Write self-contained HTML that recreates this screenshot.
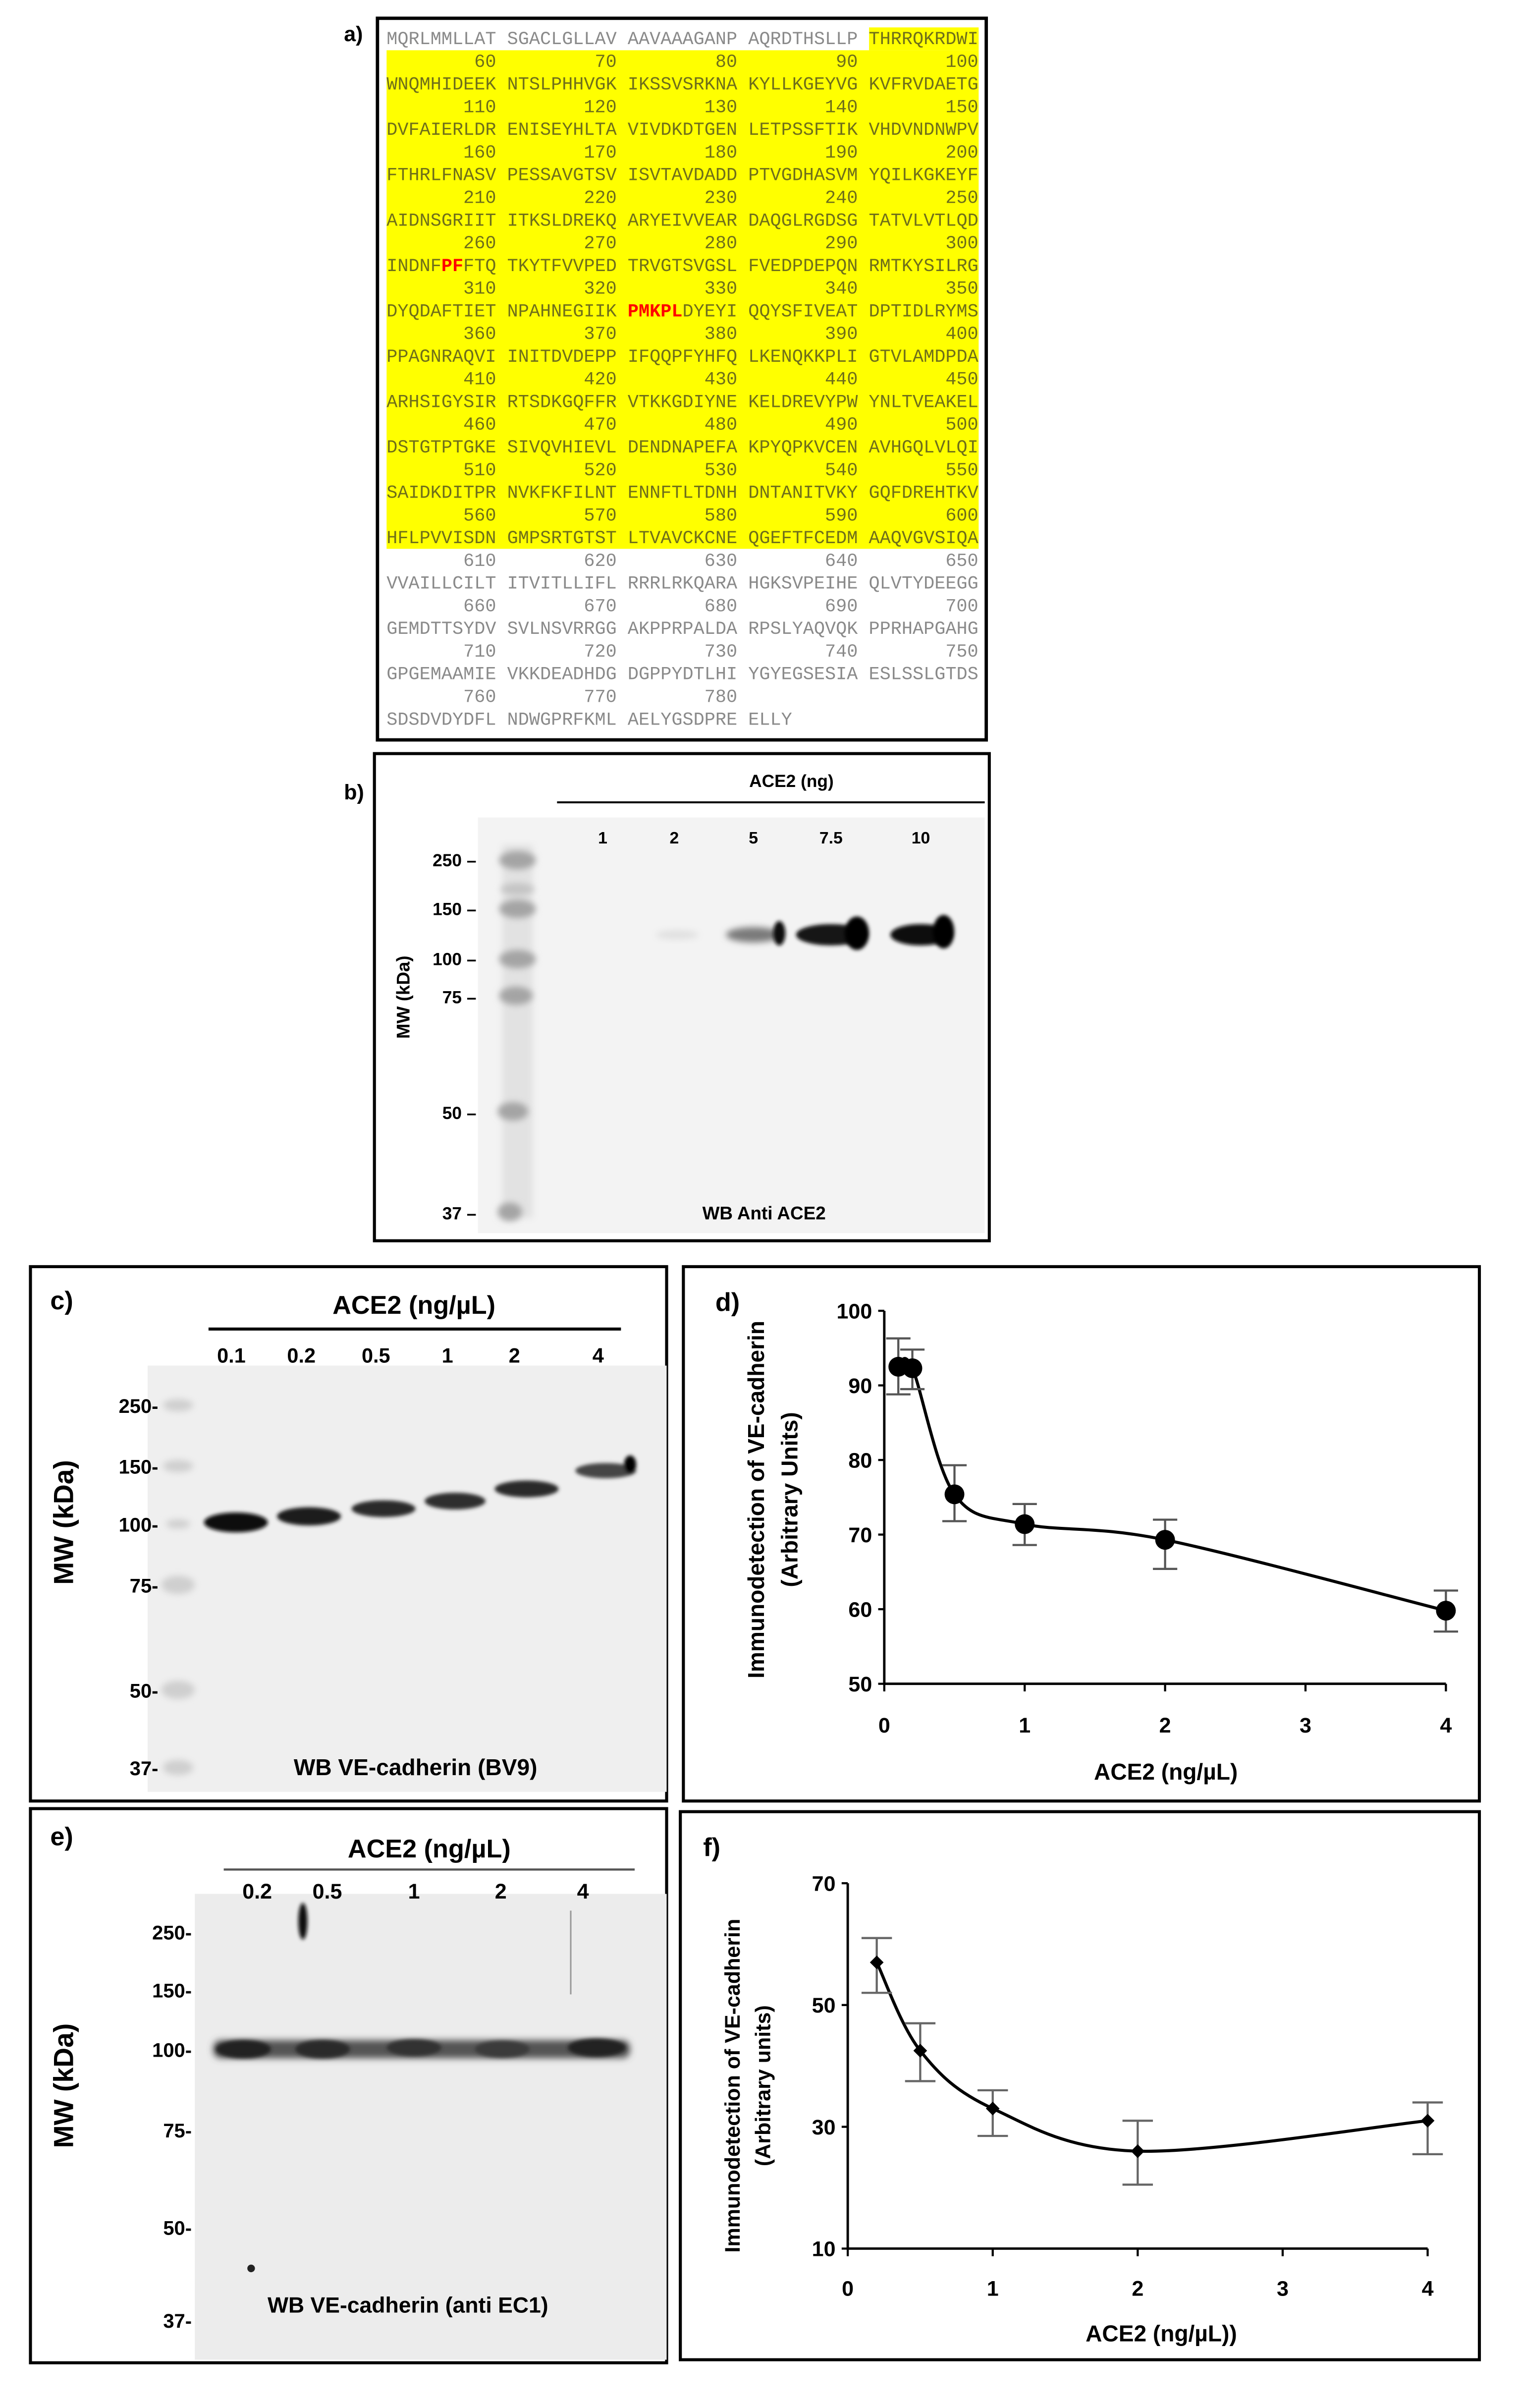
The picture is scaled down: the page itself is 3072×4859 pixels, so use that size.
<!DOCTYPE html>
<html><head><meta charset="utf-8">
<style>
html,body{margin:0;padding:0;background:#fff;}
svg{display:block;}
.mono{font-family:"Liberation Mono",monospace;font-size:12px;}
.sans{font-family:"Liberation Sans",sans-serif;font-weight:bold;}
</style></head>
<body>
<svg id="fig" xmlns="http://www.w3.org/2000/svg" width="3072" height="4859" viewBox="0 0 1000 1581.7">
<defs>
<filter id="blur1" x="-50%" y="-50%" width="200%" height="200%"><feGaussianBlur stdDeviation="2.2"/></filter>
<filter id="blur2" x="-50%" y="-50%" width="200%" height="200%"><feGaussianBlur stdDeviation="1.2"/></filter>
</defs>

<!-- Panel a -->
<text x="226" y="27" class="sans" font-size="14">a)</text>
<rect x="248" y="12" width="400" height="474" fill="#fff" stroke="#000" stroke-width="2.2"/>
<rect x="571" y="18" width="72" height="15" fill="#ffff00"/>
<rect x="254" y="33" width="389" height="327.5" fill="#ffff00"/>
<g id="seq"></g>

<!-- Panel b -->
<text x="226" y="525" class="sans" font-size="14">b)</text>
<rect x="246" y="495" width="404" height="320" fill="#fff" stroke="#000" stroke-width="2"/>
<text x="520" y="517" class="sans" font-size="11.5" text-anchor="middle">ACE2 (ng)</text>
<line x1="366" y1="527" x2="647" y2="527" stroke="#000" stroke-width="1.3"/>
<rect x="314" y="537" width="333" height="273" fill="#f3f3f3"/>
<g>
<rect x="330" y="555" width="20" height="245" fill="#e2e2e2" filter="url(#blur1)"/>
<g filter="url(#blur1)" fill="#a4a4a4">
<ellipse cx="340" cy="565" rx="12" ry="6"/><ellipse cx="340" cy="584" rx="11" ry="4" fill="#c4c4c4"/><ellipse cx="340" cy="597" rx="12" ry="6"/><ellipse cx="340" cy="630" rx="12" ry="6"/><ellipse cx="339" cy="654" rx="11" ry="6"/><ellipse cx="337" cy="730" rx="10" ry="6"/><ellipse cx="335" cy="796" rx="8" ry="6"/>
</g>
</g>
<g class="sans" font-size="11.5" text-anchor="end">
<text x="313" y="569">250 –</text><text x="313" y="601">150 –</text><text x="313" y="634">100 –</text><text x="313" y="659">75 –</text><text x="313" y="735">50 –</text><text x="313" y="801">37 –</text>
</g>
<text transform="translate(269,655) rotate(-90)" class="sans" font-size="12" text-anchor="middle">MW  (kDa)</text>
<g class="sans" font-size="11" text-anchor="middle">
<text x="396" y="554">1</text><text x="443" y="554">2</text><text x="495" y="554">5</text><text x="546" y="554">7.5</text><text x="605" y="554">10</text>
</g>
<g>
<ellipse cx="445" cy="614" rx="14" ry="3" fill="#e0e0e0" filter="url(#blur1)"/>
<ellipse cx="495" cy="614" rx="18" ry="5" fill="#7a7a7a" filter="url(#blur1)"/>
<ellipse cx="512" cy="613" rx="4" ry="8" fill="#111" filter="url(#blur2)"/>
<ellipse cx="546" cy="614" rx="23" ry="7" fill="#151515" filter="url(#blur2)"/>
<ellipse cx="563" cy="613" rx="8" ry="11" fill="#000" filter="url(#blur2)"/>
<ellipse cx="605" cy="614" rx="20" ry="7" fill="#080808" filter="url(#blur2)"/>
<ellipse cx="620" cy="612" rx="7" ry="11" fill="#000" filter="url(#blur2)"/>
</g>
<text x="502" y="801" class="sans" font-size="12" text-anchor="middle">WB Anti ACE2</text>

<!-- Panel c -->
<rect x="20" y="832" width="418" height="351" fill="#fff" stroke="#000" stroke-width="2"/>
<text x="33" y="860" class="sans" font-size="17">c)</text>
<text x="272" y="863" class="sans" font-size="17" text-anchor="middle">ACE2 (ng/µL)</text>
<line x1="137" y1="873" x2="408" y2="873" stroke="#000" stroke-width="2"/>
<rect x="97" y="897" width="341" height="280" fill="#efefef"/>
<g filter="url(#blur1)" fill="#cfcfcf">
<ellipse cx="117" cy="923" rx="10" ry="4"/><ellipse cx="117" cy="963" rx="10" ry="4"/><ellipse cx="117" cy="1001" rx="8" ry="3"/><ellipse cx="117" cy="1041" rx="11" ry="6"/><ellipse cx="117" cy="1110" rx="11" ry="6"/><ellipse cx="117" cy="1161" rx="10" ry="5"/>
</g>
<g class="sans" font-size="13" text-anchor="end">
<text x="104" y="928">250-</text><text x="104" y="968">150-</text><text x="104" y="1006">100-</text><text x="104" y="1046">75-</text><text x="104" y="1115">50-</text><text x="104" y="1166">37-</text>
</g>
<text transform="translate(48,1000) rotate(-90)" class="sans" font-size="18" text-anchor="middle">MW (kDa)</text>
<g class="sans" font-size="13.5" text-anchor="middle">
<text x="152" y="895">0.1</text><text x="198" y="895">0.2</text><text x="247" y="895">0.5</text><text x="294" y="895">1</text><text x="338" y="895">2</text><text x="393" y="895">4</text>
</g>
<g filter="url(#blur2)">
<ellipse cx="155" cy="1000" rx="21" ry="6.5" fill="#111"/>
<ellipse cx="203" cy="996" rx="21" ry="6" fill="#1c1c1c"/>
<ellipse cx="252" cy="991" rx="21" ry="5.5" fill="#2a2a2a"/>
<ellipse cx="299" cy="986" rx="20" ry="5.5" fill="#2e2e2e"/>
<ellipse cx="346" cy="978" rx="21" ry="5.5" fill="#2a2a2a"/>
<ellipse cx="398" cy="966" rx="20" ry="5" fill="#444"/>
<ellipse cx="414" cy="962" rx="4" ry="6" fill="#000"/>
</g>
<text x="273" y="1166" class="sans" font-size="15" text-anchor="middle">WB VE-cadherin (BV9)</text>

<!-- Panel d -->
<rect x="449" y="832" width="523" height="351" fill="#fff" stroke="#000" stroke-width="2"/>
<text x="470" y="861" class="sans" font-size="17">d)</text>
<text transform="translate(502,985) rotate(-90)" class="sans" font-size="15" text-anchor="middle">Immunodetection  of VE-cadherin</text>
<text transform="translate(524,985) rotate(-90)" class="sans" font-size="15" text-anchor="middle">(Arbitrary Units)</text>
<text x="766" y="1169" class="sans" font-size="15" text-anchor="middle">ACE2 (ng/µL)</text>
<g id="chartD"></g>

<!-- Panel e -->
<rect x="20" y="1188" width="418" height="364" fill="#fff" stroke="#000" stroke-width="2"/>
<text x="33" y="1212" class="sans" font-size="17">e)</text>
<text x="282" y="1220" class="sans" font-size="17" text-anchor="middle">ACE2 (ng/µL)</text>
<line x1="147" y1="1228" x2="417" y2="1228" stroke="#555" stroke-width="1.4"/>
<rect x="128" y="1244" width="310" height="306" fill="#ececec"/>
<g class="sans" font-size="14" text-anchor="middle">
<text x="169" y="1247">0.2</text><text x="215" y="1247">0.5</text><text x="272" y="1247">1</text><text x="329" y="1247">2</text><text x="383" y="1247">4</text>
</g>
<g class="sans" font-size="13" text-anchor="end">
<text x="126" y="1274">250-</text><text x="126" y="1312">150-</text><text x="126" y="1351">100-</text><text x="126" y="1404">75-</text><text x="126" y="1468">50-</text><text x="126" y="1529">37-</text>
</g>
<text transform="translate(48,1370) rotate(-90)" class="sans" font-size="18" text-anchor="middle">MW (kDa)</text>
<g>
<rect x="140" y="1340" width="274" height="12" rx="5" fill="#555" filter="url(#blur1)"/>
<ellipse cx="160" cy="1346" rx="18" ry="6" fill="#222" filter="url(#blur2)"/>
<ellipse cx="212" cy="1346" rx="18" ry="6" fill="#2a2a2a" filter="url(#blur2)"/>
<ellipse cx="272" cy="1345" rx="18" ry="5.5" fill="#333" filter="url(#blur2)"/>
<ellipse cx="330" cy="1346" rx="18" ry="5.5" fill="#3a3a3a" filter="url(#blur2)"/>
<ellipse cx="392" cy="1345" rx="19" ry="6" fill="#222" filter="url(#blur2)"/>
<ellipse cx="199" cy="1262" rx="3" ry="12" fill="#111" filter="url(#blur2)"/>
<line x1="375" y1="1255" x2="375" y2="1310" stroke="#999" stroke-width="1"/>
<circle cx="165" cy="1490" r="2.5" fill="#222"/>
</g>
<text x="268" y="1519" class="sans" font-size="14.5" text-anchor="middle">WB VE-cadherin (anti EC1)</text>

<!-- Panel f -->
<rect x="447" y="1190" width="525" height="360" fill="#fff" stroke="#000" stroke-width="2"/>
<text x="462" y="1219" class="sans" font-size="17">f)</text>
<text transform="translate(486,1370) rotate(-90)" class="sans" font-size="14" text-anchor="middle">Immunodetection of VE-cadherin</text>
<text transform="translate(506,1370) rotate(-90)" class="sans" font-size="14" text-anchor="middle">(Arbitrary units)</text>
<text x="763" y="1538" class="sans" font-size="15" text-anchor="middle">ACE2 (ng/µL))</text>
<g id="chartF"></g>
</svg>

<script>
// ---------- Sequence panel ----------
const seqRows = [
 "MQRLMMLLAT SGACLGLLAV AAVAAAGANP AQRDTHSLLP THRRQKRDWI",
 "WNQMHIDEEK NTSLPHHVGK IKSSVSRKNA KYLLKGEYVG KVFRVDAETG",
 "DVFAIERLDR ENISEYHLTA VIVDKDTGEN LETPSSFTIK VHDVNDNWPV",
 "FTHRLFNASV PESSAVGTSV ISVTAVDADD PTVGDHASVM YQILKGKEYF",
 "AIDNSGRIIT ITKSLDREKQ ARYEIVVEAR DAQGLRGDSG TATVLVTLQD",
 "INDNFPFFTQ TKYTFVVPED TRVGTSVGSL FVEDPDEPQN RMTKYSILRG",
 "DYQDAFTIET NPAHNEGIIK PMKPLDYEYI QQYSFIVEAT DPTIDLRYMS",
 "PPAGNRAQVI INITDVDEPP IFQQPFYHFQ LKENQKKPLI GTVLAMDPDA",
 "ARHSIGYSIR RTSDKGQFFR VTKKGDIYNE KELDREVYPW YNLTVEAKEL",
 "DSTGTPTGKE SIVQVHIEVL DENDNAPEFA KPYQPKVCEN AVHGQLVLQI",
 "SAIDKDITPR NVKFKFILNT ENNFTLTDNH DNTANITVKY GQFDREHTKV",
 "HFLPVVISDN GMPSRTGTST LTVAVCKCNE QGEFTFCEDM AAQVGVSIQA",
 "VVAILLCILT ITVITLLIFL RRRLRKQARA HGKSVPEIHE QLVTYDEEGG",
 "GEMDTTSYDV SVLNSVRRGG AKPPRPALDA RPSLYAQVQK PPRHAPGAHG",
 "GPGEMAAMIE VKKDEADHDG DGPPYDTLHI YGYEGSESIA ESLSSLGTDS",
 "SDSDVDYDFL NDWGPRFKML AELYGSDPRE ELLY"
];
const redMarks = {5:[[5,7]], 6:[[22,27]]};
const NS = "http://www.w3.org/2000/svg";
const seqG = document.getElementById('seq');
const x0 = 254, cw = 7.2, step = 14.9, base0 = 29;
let line = 0;
seqRows.forEach((row, r) => {
  const y = base0 + line*step;
  const inYellow = (line >= 1 && line <= 22);
  const t = document.createElementNS(NS,'text');
  
  
  t.setAttribute('x', x0); t.setAttribute('y', y);
  t.setAttribute('class','mono');
  t.setAttribute('xml:space','preserve');
  t.setAttribute('fill', inYellow ? '#6f6f1a' : '#8a8a8a');
  const marks = redMarks[r] || [];
  let pos = 0;
  const pieces = [];
  marks.forEach(m => { pieces.push([row.slice(pos, m[0]), false]); pieces.push([row.slice(m[0], m[1]), true]); pos = m[1]; });
  pieces.push([row.slice(pos), false]);
  if (r === 0) {
    pieces.length = 0;
    pieces.push([row.slice(0,44), 'grey']); pieces.push([row.slice(44), 'olive']);
  }
  pieces.forEach(p => {
    if (!p[0]) return;
    const s = document.createElementNS(NS,'tspan');
    s.textContent = p[0];
    if (p[1] === true) { s.setAttribute('fill','#ff0000'); s.setAttribute('font-weight','bold'); }
    if (p[1] === 'olive') s.setAttribute('fill','#6f6f1a');
    t.appendChild(s);
  });
  seqG.appendChild(t);
  line++;
  if (r < seqRows.length - 1) {
    const yy = base0 + line*step;
    const yel = line <= 22;
    const nBlocks = r === seqRows.length - 2 ? 3 : 5;
    for (let k = 0; k < nBlocks; k++) {
      const n = (r+1)*50 + (k+1)*10;
      const nt = document.createElementNS(NS,'text');
      
      
      nt.setAttribute('x', x0 + (k*11+10)*cw);
      nt.setAttribute('y', yy);
      nt.setAttribute('class','mono');
      nt.setAttribute('text-anchor','end');
      nt.setAttribute('fill', yel ? '#6f6f1a' : '#8a8a8a');
      nt.textContent = n;
      seqG.appendChild(nt);
    }
    line++;
  }
});

// ---------- Chart d data ----------
const dX = [0.1, 0.2, 0.5, 1, 2, 4];
const dY = [92.5, 92.3, 75.4, 71.4, 69.3, 59.8];
const dErrLo = [88.8, 89.5, 71.8, 68.6, 65.4, 57.0];
const dErrHi = [96.3, 94.8, 79.3, 74.1, 72.0, 62.5];
const dYTicks = [50, 60, 70, 80, 90, 100];
const dXTicks = [0, 1, 2, 3, 4];

// ---------- Chart f data ----------
const fX = [0.2, 0.5, 1, 2, 4];
const fY = [57, 42.5, 33, 26, 31];
const fErrLo = [52, 37.5, 28.5, 20.5, 25.5];
const fErrHi = [61, 47, 36, 31, 34];
const fYTicks = [10, 30, 50, 70];
const fXTicks = [0, 1, 2, 3, 4];

function mk(parent, tag, attrs) {
  const e = document.createElementNS(NS, tag);
  for (const k in attrs) e.setAttribute(k, attrs[k]);
  parent.appendChild(e);
  return e;
}
function spline(pts) {
  let d = `M${pts[0][0]},${pts[0][1]}`;
  for (let i = 0; i < pts.length - 1; i++) {
    const p0 = pts[i-1] || pts[i], p1 = pts[i], p2 = pts[i+1], p3 = pts[i+2] || p2;
    const c1 = [p1[0] + (p2[0]-p0[0])/6, p1[1] + (p2[1]-p0[1])/6];
    const c2 = [p2[0] - (p3[0]-p1[0])/6, p2[1] - (p3[1]-p1[1])/6];
    d += ` C${c1[0]},${c1[1]} ${c2[0]},${c2[1]} ${p2[0]},${p2[1]}`;
  }
  return d;
}
function drawChart(g, cfg) {
  const X = v => cfg.xl + (v - cfg.xmin)/(cfg.xmax - cfg.xmin)*(cfg.xr - cfg.xl);
  const Y = v => cfg.yb - (v - cfg.ymin)/(cfg.ymax - cfg.ymin)*(cfg.yb - cfg.yt);
  const ax = mk(g, 'path', {d:`M${X(cfg.xmin)},${Y(cfg.ymax)} L${X(cfg.xmin)},${Y(cfg.ymin)} L${X(cfg.xmax)},${Y(cfg.ymin)}`, fill:'none', stroke:'#000', 'stroke-width':1.6});
  
  
  cfg.yTicks.forEach(v => {
    const tk = mk(g, 'line', {x1:X(cfg.xmin)-4, x2:X(cfg.xmin), y1:Y(v), y2:Y(v), stroke:'#000', 'stroke-width':1.4});
    
    
    const tl = mk(g, 'text', {x:X(cfg.xmin)-8, y:Y(v)+5, 'text-anchor':'end', class:'sans', 'font-size':cfg.fs});
    
    
    tl.textContent = v;
  });
  cfg.xTicks.forEach(v => {
    const tk = mk(g, 'line', {x1:X(v), x2:X(v), y1:Y(cfg.ymin), y2:Y(cfg.ymin)+5, stroke:'#000', 'stroke-width':1.4});
    
    
    const tl = mk(g, 'text', {x:X(v), y:Y(cfg.ymin)+cfg.xlabOff, 'text-anchor':'middle', class:'sans', 'font-size':cfg.fs});
    
    
    tl.textContent = v;
  });
  const pts = cfg.xs.map((x, i) => [X(x), Y(cfg.ys[i])]);
  const ln = mk(g, 'path', {d:spline(pts), fill:'none', stroke:'#000', 'stroke-width':2});
  
  
  cfg.xs.forEach((x, i) => {
    const eb = mk(g, 'path', {d:`M${X(x)-cfg.cap},${Y(cfg.hi[i])} h${2*cfg.cap} M${X(x)},${Y(cfg.hi[i])} V${Y(cfg.lo[i])} M${X(x)-cfg.cap},${Y(cfg.lo[i])} h${2*cfg.cap}`, fill:'none', stroke:cfg.errCol, 'stroke-width':1.4});
    
    
  });
  cfg.xs.forEach((x, i) => {
    let m;
    if (cfg.marker === 'circle') {
      m = mk(g, 'circle', {cx:X(x), cy:Y(cfg.ys[i]), r:6.5, fill:'#000'});
    } else {
      const cx = X(x), cy = Y(cfg.ys[i]), r = 4.5;
      m = mk(g, 'path', {d:`M${cx},${cy-r} L${cx+r},${cy} L${cx},${cy+r} L${cx-r},${cy} Z`, fill:'#000'});
    }
    
    
  });
}
drawChart(document.getElementById('chartD'), {
  xs:dX, ys:dY, lo:dErrLo, hi:dErrHi, yTicks:dYTicks, xTicks:dXTicks,
  xmin:0, xmax:4, ymin:50, ymax:100, xl:581, xr:950, yt:861, yb:1106,
  fs:14, xlabOff:32, cap:8, errCol:'#555', marker:'circle'
});
drawChart(document.getElementById('chartF'), {
  xs:fX, ys:fY, lo:fErrLo, hi:fErrHi, yTicks:fYTicks, xTicks:fXTicks,
  xmin:0, xmax:4, ymin:10, ymax:70, xl:557, xr:938, yt:1237, yb:1477,
  fs:14, xlabOff:31, cap:10, errCol:'#666', marker:'diamond'
});
</script>
</body></html>
